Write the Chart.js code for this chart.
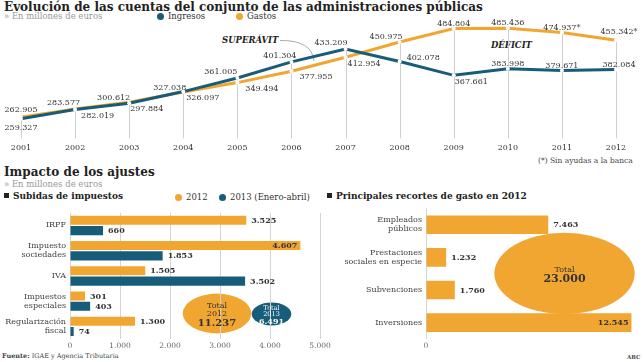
<!DOCTYPE html>
<html>
<head>
<meta charset="utf-8">
<script src="https://cdn.jsdelivr.net/npm/chart.js@4"></script>
<style>
body { margin: 0; width: 644px; height: 362px; background: #fff; position: relative; overflow: hidden; font-family: "DejaVu Serif", serif; color: #333; }
.t { position: absolute; white-space: nowrap; line-height: 1; }
.h1 { font-weight: bold; font-size: 12px; color: #222; }
.sub { font-size: 8.5px; color: #999; }
.h2 { font-weight: bold; font-size: 9px; color: #222; }
.dot { display: inline-block; width: 7px; height: 7px; border-radius: 50%; margin-right: 4px; vertical-align: -1px; }
.sq { display: inline-block; width: 5px; height: 5px; background: #222; margin-right: 4px; vertical-align: 1px; }
.ann { font-weight: bold; font-style: italic; font-size: 8.5px; color: #222; }
canvas { position: absolute; }
</style>
</head>
<body>
<div class="t h1" style="left:4px;top:1px">Evolución de las cuentas del conjunto de las administraciones públicas</div>
<div class="t sub" style="left:4px;top:12px">» En millones de euros</div>
<div class="t" style="left:157px;top:12px;font-size:8.5px"><span class="dot" style="background:#175c78"></span>Ingresos</div>
<div class="t" style="left:236px;top:12px;font-size:8.5px"><span class="dot" style="background:#f2a632"></span>Gastos</div>
<div class="t ann" style="left:222px;top:36px">SUPERÁVIT</div>
<div class="t ann" style="left:491px;top:41px">DÉFICIT</div>
<div class="t" style="left:538px;top:157px;font-size:7.5px;color:#444">(*) Sin ayudas a la banca</div>

<div class="t h1" style="left:4px;top:166px">Impacto de los ajustes</div>
<div class="t sub" style="left:4px;top:180px">» En millones de euros</div>
<div class="t h2" style="left:4px;top:192px"><span class="sq"></span>Subidas de impuestos</div>
<div class="t" style="left:175px;top:193px;font-size:8.5px"><span class="dot" style="background:#f2a632"></span>2012</div>
<div class="t" style="left:219px;top:193px;font-size:8.5px"><span class="dot" style="background:#175c78"></span>2013 (Enero-abril)</div>
<div class="t h2" style="left:327px;top:192px"><span class="sq"></span>Principales recortes de gasto en 2012</div>
<div class="t" style="left:2px;top:353px;font-size:6.5px;color:#444"><b>Fuente:</b> IGAE y Agencia Tributaria</div>
<div class="t" style="left:627px;top:355px;font-size:5.5px;font-weight:bold;color:#444">ABC</div>

<canvas id="lineChart" width="644" height="140" style="left:0;top:18px"></canvas>
<canvas id="taxChart" width="336" height="158" style="left:0;top:200px"></canvas>
<canvas id="cutChart" width="322" height="158" style="left:322px;top:200px"></canvas>

<script>
// evolucion de cuentas (millones de euros)
var years = ['2001', '2002', '2003', '2004', '2005', '2006', '2007', '2008', '2009', '2010', '2011', '2012'];
var ingresos = [259327, 282019, 297884, 327038, 361005, 401304, 433209, 402078, 367661, 383998, 379671, 382084];
var gastos = [262905, 283577, 300612, 326097, 349494, 377955, 412954, 450975, 484804, 485436, 474937, 455342];
var gastosNote = ['', '', '', '', '', '', '', '', '', '', '*', '*'];

// subidas de impuestos
var taxCats = [['IRPF'], ['Impuesto', 'sociedades'], ['IVA'], ['Impuestos', 'especiales'], ['Regularización', 'fiscal']];
var tax2012 = [3525, 4607, 1505, 301, 1300];
var tax2013 = [660, 1853, 3502, 403, 74];
var taxTotal2012 = 11237;
var taxTotal2013 = 6491;

// recortes de gasto 2012
var cutCats = [['Empleados', 'públicos'], ['Prestaciones', 'sociales en especie'], ['Subvenciones'], ['Inversiones']];
var cuts2012 = [7463, 1232, 1760, 12545];
var cutsTotal = 23000;

var ORANGE = '#f2a632';
var TEAL = '#175c78';
var FONT = '"DejaVu Serif", serif';

// where each value label sits around its point: [dx, dy, align]
var ingLabelPos = [[0, 9, 'center'], [6, 6, 'left'], [1, 6, 'left'], [3, -4, 'right'], [0, -6, 'right'], [5, -6, 'right'],
    [2, -6, 'right'], [7, -4, 'left'], [1, 7, 'left'], [0, -5, 'center'], [0, -5, 'center'], [3, -5, 'center']];
var gasLabelPos = [[0, -7, 'center'], [5, -6, 'right'], [1, -4, 'right'], [3, 6, 'left'], [8, 6, 'left'], [8, 6, 'left'],
    [2, 7, 'left'], [3, -5, 'right'], [0, -5, 'center'], [0, -5, 'center'], [0, -5, 'center'], [3, -8, 'center']];

function fmt(n) {
    return String(n).replace(/\B(?=(\d{3})+(?!\d))/g, '.');
}

Chart.defaults.font.family = FONT;
Chart.defaults.color = '#333';
Chart.defaults.animation = false;
Chart.defaults.devicePixelRatio = 1;
Chart.defaults.plugins.legend.display = false;
Chart.defaults.plugins.tooltip.enabled = false;

// vertical drop lines from axis to top point + superavit connector
var dropLines = {
    id: 'dropLines',
    beforeDatasetsDraw: function (chart) {
        var ctx = chart.ctx, xs = chart.scales.x, ys = chart.scales.y;
        ctx.save();
        ctx.strokeStyle = '#cfcfcf';
        ctx.lineWidth = 1;
        years.forEach(function (y, i) {
            var x = Math.round(xs.getPixelForValue(i)) + 0.5;
            ctx.beginPath();
            ctx.moveTo(x, chart.chartArea.bottom);
            ctx.lineTo(x, ys.getPixelForValue(Math.max(ingresos[i], gastos[i])));
            ctx.stroke();
        });
        // connector from SUPERÁVIT label
        ctx.strokeStyle = '#aaa';
        ctx.beginPath();
        ctx.moveTo(280, 22.5);
        ctx.quadraticCurveTo(312, 22, 314, 43);
        ctx.stroke();
        ctx.restore();
    }
};

var lineLabels = {
    id: 'lineLabels',
    afterDatasetsDraw: function (chart) {
        var ctx = chart.ctx;
        ctx.save();
        ctx.font = '8px ' + FONT;
        ctx.fillStyle = '#333';
        ctx.textBaseline = 'middle';
        chart.data.datasets.forEach(function (ds, di) {
            var pos = di === 0 ? ingLabelPos : gasLabelPos;
            chart.getDatasetMeta(di).data.forEach(function (pt, i) {
                var p = pos[i];
                ctx.textAlign = p[2];
                ctx.fillText(fmt(ds.data[i]) + (di === 1 ? gastosNote[i] : ''), pt.x + p[0], pt.y + p[1]);
            });
        });
        ctx.restore();
    }
};

new Chart(document.getElementById('lineChart').getContext('2d'), {
    type: 'line',
    data: {
        labels: years,
        datasets: [
            { label: 'Ingresos', data: ingresos, borderColor: TEAL, borderWidth: 3, tension: 0,
              pointRadius: 2, pointBackgroundColor: '#fff', pointBorderWidth: 0 },
            { label: 'Gastos', data: gastos, borderColor: ORANGE, borderWidth: 3, tension: 0,
              pointRadius: 2, pointBackgroundColor: '#fff', pointBorderWidth: 0 }
        ]
    },
    options: {
        responsive: false,
        layout: { padding: { left: 21, right: 28, top: 6, bottom: 0 } },
        scales: {
            x: {
                grid: { display: false, drawTicks: false },
                border: { display: false },
                ticks: { font: { size: 8 }, color: '#333', padding: 5, maxRotation: 0, autoSkip: false }
            },
            y: { display: false, min: 210000, max: 496000 }
        }
    },
    plugins: [dropLines, lineLabels]
});

// value labels for bar charts
var barLabels = {
    id: 'barLabels',
    afterDatasetsDraw: function (chart) {
        var ctx = chart.ctx;
        ctx.save();
        ctx.font = 'bold 8px ' + FONT;
        ctx.fillStyle = '#333';
        ctx.textBaseline = 'middle';
        chart.data.datasets.forEach(function (ds, di) {
            chart.getDatasetMeta(di).data.forEach(function (bar, i) {
                var txt = fmt(ds.data[i]);
                var w = ctx.measureText(txt).width;
                if (bar.x + 6 + w > chart.chartArea.right) {
                    ctx.textAlign = 'right';
                    ctx.fillText(txt, bar.x - 3, bar.y + 0.5);
                } else {
                    ctx.textAlign = 'left';
                    ctx.fillText(txt, bar.x + 5, bar.y + 0.5);
                }
            });
        });
        ctx.restore();
    }
};

// total bubbles (size follows the total)
function bubbles(list) {
    var k = 0.00305;
    return {
        id: 'bubbles',
        beforeDraw: function (chart) {
            var ctx = chart.ctx;
            ctx.save();
            list.forEach(function (b) {
                var rx = b.total * k;
                ctx.fillStyle = b.color;
                ctx.beginPath();
                ctx.ellipse(chart.chartArea.left + b.dx, b.cy, rx, rx * 0.58, 0, 0, Math.PI * 2);
                ctx.fill();
            });
            ctx.restore();
        },
        afterDraw: function (chart) {
            var ctx = chart.ctx;
            ctx.save();
            ctx.textAlign = 'center';
            ctx.textBaseline = 'middle';
            list.forEach(function (b) {
                var x = chart.chartArea.left + b.dx;
                var y = b.cy - (b.lines.length * b.lh) / 2 + 0.5;
                ctx.fillStyle = b.ink;
                ctx.font = b.small + 'px ' + FONT;
                b.lines.forEach(function (l) {
                    ctx.fillText(l, x, y);
                    y += b.lh;
                });
                ctx.font = 'bold ' + b.big + 'px ' + FONT;
                ctx.fillText(fmt(b.total), x, y + 0.5);
            });
            ctx.restore();
        }
    };
}

function barOptions(yWidth, padRight, max, step) {
    return {
        indexAxis: 'y',
        responsive: false,
        layout: { padding: { left: 0, right: padRight, top: 5, bottom: 4 } },
        scales: {
            x: {
                min: 0, max: max,
                grid: { color: '#d4d4d4', drawTicks: false },
                border: { display: false },
                ticks: { stepSize: step, font: { size: 7.5 }, color: '#666', padding: 3, callback: function (v) { return fmt(v); } },
                afterBuildTicks: function (s) {
                    s.ticks = s.ticks.filter(function (t) { return t.value % step === 0; });
                }
            },
            y: {
                grid: { display: false, drawTicks: false },
                border: { display: false },
                ticks: { font: { size: 8, lineHeight: 1.1 }, color: '#444', padding: 4 },
                afterFit: function (s) { s.width = yWidth; }
            }
        }
    };
}

new Chart(document.getElementById('taxChart').getContext('2d'), {
    type: 'bar',
    data: {
        labels: taxCats,
        datasets: [
            { label: '2012', data: tax2012, backgroundColor: ORANGE, categoryPercentage: 0.82, barPercentage: 0.88 },
            { label: '2013 (Enero-abril)', data: tax2013, backgroundColor: TEAL, categoryPercentage: 0.82, barPercentage: 0.88 }
        ]
    },
    options: barOptions(70, 16, 5000, 1000),
    plugins: [barLabels, bubbles([
        { total: taxTotal2012, color: ORANGE, ink: '#333', dx: 147, cy: 113.5, lines: ['Total', '2012'], small: 8, lh: 8.5, big: 10 },
        { total: taxTotal2013, color: TEAL, ink: '#fff', dx: 201.5, cy: 114, lines: ['Total', '2013'], small: 6.5, lh: 6.5, big: 8 }
    ])]
});

new Chart(document.getElementById('cutChart').getContext('2d'), {
    type: 'bar',
    data: {
        labels: cutCats,
        datasets: [
            { label: '2012', data: cuts2012, backgroundColor: ORANGE, categoryPercentage: 0.6, barPercentage: 0.95 }
        ]
    },
    options: barOptions(104, 10, 12700, 3000),
    plugins: [barLabels, bubbles([
        { total: cutsTotal, color: ORANGE, ink: '#333', dx: 138.5, cy: 73.5, lines: ['Total'], small: 8, lh: 9, big: 11 }
    ])]
});
</script>
</body>
</html>
